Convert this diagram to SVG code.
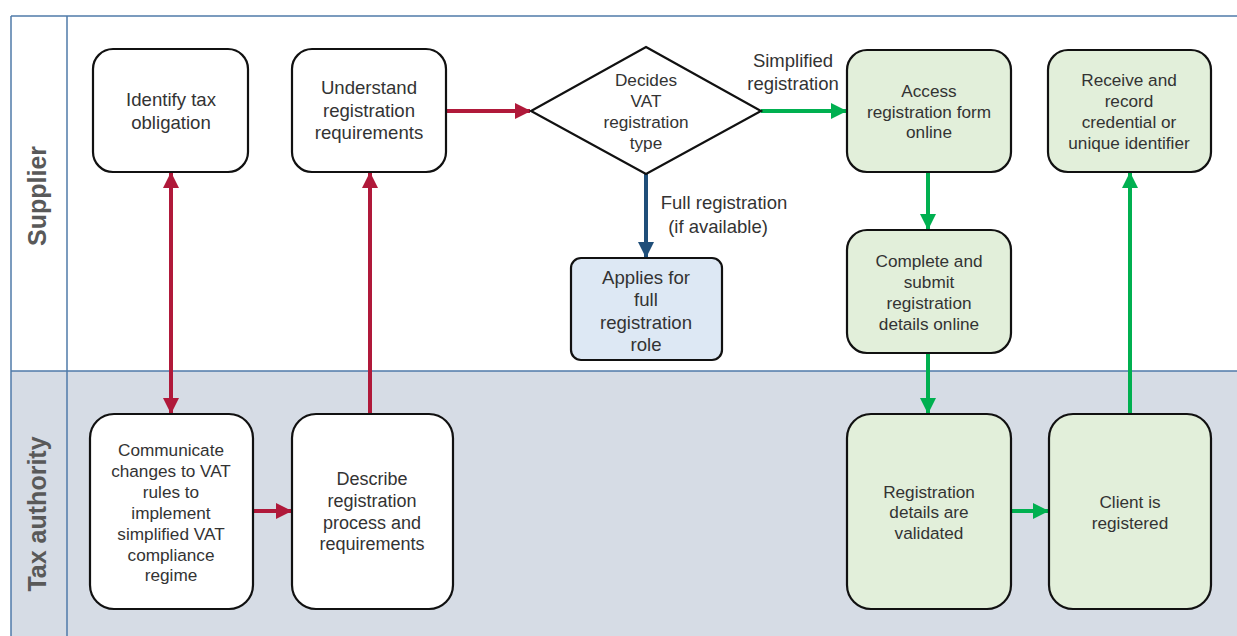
<svg xmlns="http://www.w3.org/2000/svg" width="1237" height="636" viewBox="0 0 1237 636">
<style>
.lane{stroke:#4f7aa8;stroke-width:1.5}
.box{stroke:#111;stroke-width:2.2}
.w{fill:#fff}
.g{fill:#e2efda}
.b{fill:#dde8f4}
text{font-family:"Liberation Sans",Arial,sans-serif;fill:#333;text-anchor:middle}
.t{font-size:17.2px}
.tl{font-size:18.6px}
.lbl{font-size:18.5px}
.hdr{font-size:25px;font-weight:bold;fill:#595959}
.red{stroke:#b0193a;stroke-width:4;fill:none}
.grn{stroke:#00b050;stroke-width:4;fill:none}
.blu{stroke:#1f4e79;stroke-width:4;fill:none}
</style>
<defs>
<marker id="ar" markerUnits="userSpaceOnUse" markerWidth="16" markerHeight="16" viewBox="0 0 16 16" refX="15" refY="8" orient="auto-start-reverse"><path d="M0,0 L16,8 L0,16 z" fill="#b0193a"/></marker>
<marker id="ag" markerUnits="userSpaceOnUse" markerWidth="16" markerHeight="16" viewBox="0 0 16 16" refX="15" refY="8" orient="auto"><path d="M0,0 L16,8 L0,16 z" fill="#00b050"/></marker>
<marker id="ab" markerUnits="userSpaceOnUse" markerWidth="16" markerHeight="16" viewBox="0 0 16 16" refX="15" refY="8" orient="auto"><path d="M0,0 L16,8 L0,16 z" fill="#1f4e79"/></marker>
</defs>
<rect width="1237" height="636" fill="#fff"/>
<g id="lanes">
<rect x="11" y="371" width="1226" height="265" fill="#d6dce5"/>
<line class="lane" x1="11" y1="16" x2="1237" y2="16"/>
<line class="lane" x1="11" y1="371" x2="1237" y2="371"/>
<line class="lane" x1="11" y1="16" x2="11" y2="636"/>
<line class="lane" x1="67" y1="16" x2="67" y2="636"/>
<text class="hdr" x="46" y="196" transform="rotate(-90 46 196)">Supplier</text>
<text class="hdr" x="46" y="514" transform="rotate(-90 46 514)">Tax authority</text>
</g>
<g id="connectors">
<line class="red" x1="171" y1="173" x2="171" y2="413" marker-start="url(#ar)" marker-end="url(#ar)"/>
<line class="red" x1="370" y1="414" x2="370" y2="173" marker-end="url(#ar)"/>
<line class="red" x1="253" y1="511" x2="291" y2="511" marker-end="url(#ar)"/>
<line class="red" x1="446" y1="111" x2="530" y2="111" marker-end="url(#ar)"/>
<line class="grn" x1="761" y1="111" x2="846" y2="111" marker-end="url(#ag)"/>
<line class="blu" x1="646" y1="174" x2="646" y2="257" marker-end="url(#ab)"/>
<line class="grn" x1="928" y1="172" x2="928" y2="229" marker-end="url(#ag)"/>
<line class="grn" x1="928" y1="353" x2="928" y2="413" marker-end="url(#ag)"/>
<line class="grn" x1="1011" y1="511" x2="1048" y2="511" marker-end="url(#ag)"/>
<line class="grn" x1="1130" y1="414" x2="1130" y2="173" marker-end="url(#ag)"/>
<text class="lbl" x="793" y="67">Simplified</text>
<text class="lbl" x="793" y="90">registration</text>
<text class="lbl" x="724" y="209">Full registration</text>
<text class="lbl" x="718" y="233">(if available)</text>
</g>
<g id="n1"><rect class="box w" x="93" y="49" width="155" height="123" rx="20"/>
<text class="tl" x="171" y="106">Identify tax</text><text class="tl" x="171" y="129">obligation</text></g>
<g id="n2"><rect class="box w" x="292" y="49" width="154" height="123" rx="20"/>
<text class="tl" x="369" y="94">Understand</text><text class="tl" x="369" y="117">registration</text><text class="tl" x="369" y="139">requirements</text></g>
<g id="n3"><polygon class="box w" points="646,47 761,111 646,174 531,111"/>
<text class="t" x="646" y="86">Decides</text><text class="t" x="646" y="107">VAT</text><text class="t" x="646" y="128">registration</text><text class="t" x="646" y="149">type</text></g>
<g id="n4"><rect class="box b" x="571" y="258" width="151" height="102" rx="10"/>
<text class="tl" x="646" y="284">Applies for</text><text class="tl" x="646" y="306">full</text><text class="tl" x="646" y="329">registration</text><text class="tl" x="646" y="351">role</text></g>
<g id="n5"><rect class="box g" x="847" y="50" width="164" height="122" rx="20"/>
<text class="t" x="929" y="97">Access</text><text class="t" x="929" y="118">registration form</text><text class="t" x="929" y="138">online</text></g>
<g id="n6"><rect class="box g" x="1048" y="50" width="163" height="122" rx="20"/>
<text class="t" x="1129" y="86">Receive and</text><text class="t" x="1129" y="107">record</text><text class="t" x="1129" y="128">credential or</text><text class="t" x="1129" y="149">unique identifier</text></g>
<g id="n7"><rect class="box g" x="847" y="230" width="164" height="123" rx="20"/>
<text class="t" x="929" y="267">Complete and</text><text class="t" x="929" y="288">submit</text><text class="t" x="929" y="309">registration</text><text class="t" x="929" y="330">details online</text></g>
<g id="n8"><rect class="box w" x="90" y="414" width="163" height="195" rx="24"/>
<text class="t" x="171" y="456">Communicate</text><text class="t" x="171" y="477">changes to VAT</text><text class="t" x="171" y="498">rules to</text><text class="t" x="171" y="519">implement</text><text class="t" x="171" y="540">simplified VAT</text><text class="t" x="171" y="561">compliance</text><text class="t" x="171" y="581">regime</text></g>
<g id="n9"><rect class="box w" x="292" y="414" width="161" height="195" rx="24"/>
<text style="font-size:18px" x="372" y="485">Describe</text><text style="font-size:18px" x="372" y="507">registration</text><text style="font-size:18px" x="372" y="529">process and</text><text style="font-size:18px" x="372" y="550">requirements</text></g>
<g id="n10"><rect class="box g" x="847" y="414" width="164" height="195" rx="24"/>
<text class="t" x="929" y="498">Registration</text><text class="t" x="929" y="518">details are</text><text class="t" x="929" y="539">validated</text></g>
<g id="n11"><rect class="box g" x="1049" y="414" width="162" height="195" rx="24"/>
<text class="t" x="1130" y="508">Client is</text><text class="t" x="1130" y="529">registered</text></g>
</svg>
